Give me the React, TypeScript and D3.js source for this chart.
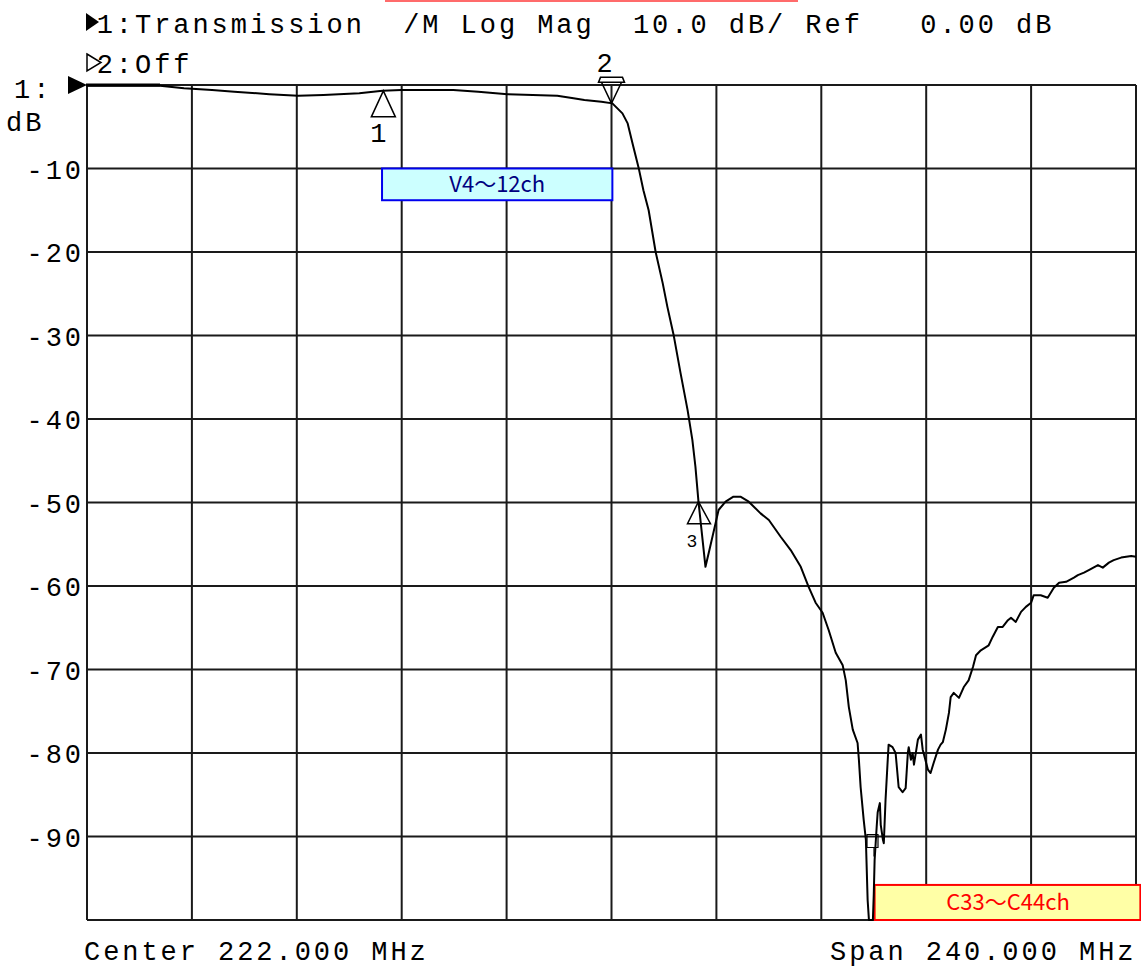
import * as d3 from "d3";

// sweep settings shown on the analyzer
const centerMHz = 222;
const spanMHz = 240;
const divisions = 10;
const refDB = 0;
const scaleDB = 10;

const headerLine1 = "1:Transmission  /M Log Mag  10.0 dB/ Ref   0.00 dB";
const headerLine2 = "2:Off";
const footerLeft = "Center 222.000 MHz";
const footerRight = "Span 240.000 MHz";

const yTickLabels = ["-10", "-20", "-30", "-40", "-50", "-60", "-70", "-80", "-90"];

// [MHz, dB]
const traceS21: [number, number][] = [
  [102.0, -0.1], [118.7, -0.1], [124.2, -0.4], [130.6, -0.6], [135.7, -0.8],
  [143.7, -1.1], [150.3, -1.3], [156.1, -1.2], [164.3, -1.0], [169.6, -0.7],
  [173.9, -0.6], [185.8, -0.6], [191.5, -0.8], [198.2, -1.1], [209.6, -1.3],
  [213.3, -1.6], [215.8, -1.8], [219.7, -2.0], [222.2, -2.2], [224.5, -3.4],
  [225.7, -4.6], [227.0, -7.4], [228.2, -9.9], [229.3, -12.6], [230.5, -15.0],
  [232.1, -20.0], [233.7, -23.7], [234.8, -26.6], [236.2, -29.9], [237.8, -34.5],
  [239.4, -38.9], [240.5, -42.5], [241.2, -45.7], [241.9, -49.9], [243.5, -57.7],
  [244.4, -55.7], [245.8, -52.5], [246.5, -50.9], [248.1, -49.9], [249.9, -49.3],
  [251.5, -49.3], [253.4, -49.9], [256.1, -51.3], [258.0, -52.1], [260.7, -54.1],
  [263.0, -55.7], [265.3, -57.7], [267.1, -60.1], [268.7, -62.0], [270.3, -63.2],
  [271.7, -65.3], [273.3, -68.0], [274.9, -69.5], [275.6, -71.3], [276.3, -74.5],
  [277.2, -77.2], [278.3, -78.8], [278.6, -80.8], [279.0, -84.1], [279.7, -88.0],
  [280.2, -90.4], [280.4, -94.0], [280.6, -97.6], [280.9, -100], [281.8, -100],
  [282.0, -97.0], [282.2, -92.8], [282.7, -88.6], [282.9, -87.1], [283.4, -86.0],
  [283.6, -88.6], [284.1, -90.4], [284.3, -90.8], [284.7, -85.6], [285.2, -80.8],
  [285.4, -79.0], [286.3, -79.3], [287.0, -80.0], [287.7, -84.1], [288.6, -84.7],
  [289.3, -84.2], [289.8, -80.0], [290.0, -79.3], [290.5, -80.8], [290.9, -80.0],
  [291.2, -81.4], [292.1, -78.4], [292.8, -77.8], [293.2, -79.6], [293.4, -80.0],
  [294.4, -82.0], [295.0, -82.4], [295.7, -81.2], [296.7, -79.6], [297.3, -79.0],
  [297.8, -78.7], [298.5, -77.2], [299.2, -75.2], [299.6, -73.3], [300.3, -72.8],
  [301.5, -73.4], [302.6, -72.1], [303.7, -71.3], [304.7, -69.7], [305.4, -68.3],
  [306.5, -67.7], [308.3, -67.1], [309.2, -66.1], [310.4, -64.9], [311.5, -64.9],
  [312.7, -64.1], [313.4, -63.8], [314.5, -64.3], [315.7, -63.1], [316.8, -62.5],
  [318.0, -62.0], [318.6, -61.1], [320.2, -61.1], [321.8, -61.4], [323.2, -60.2],
  [324.4, -59.6], [326.0, -59.5], [327.8, -59.0], [328.7, -58.7], [330.1, -58.4],
  [331.2, -58.1], [333.3, -57.5], [334.4, -57.8], [335.8, -57.2], [336.9, -56.9],
  [338.6, -56.6], [340.9, -56.4], [342.0, -56.5],
];

// markers: number, MHz, dB
const markerIds = [1, 2, 3, 4];
const markerMHz = [169.8, 222.0, 241.9, 281.6];
const markerDB = [-0.7, -2.2, -49.9, -90.0];

// channel annotations
const bandLabels = ["V4～12ch", "C33～C44ch"];
const bandStartMHz = [169.5, 282.2];
const bandEndMHz = [222.2, 343.0];
const bandTopDB = [-10, -95.8];
const bandBottomDB = [-13.8, -100];

const MONO = "'Liberation Mono', 'DejaVu Sans Mono', monospace";
const PITCH = 19.15;

function Mono({ x, y, text, size = 27 }: { x: number; y: number; text: string; size?: number }) {
  return (
    <text
      x={x}
      y={y}
      fontFamily={MONO}
      fontSize={size}
      letterSpacing={PITCH - size * 0.6}
      fill="#000"
      xmlSpace="preserve"
      style={{ whiteSpace: "pre" }}
    >
      {text}
    </text>
  );
}

export default function App() {
  const W = 1141,
    H = 967;
  const margin = { top: 85, right: 5, bottom: 47, left: 87 };

  const f0 = centerMHz - spanMHz / 2;
  const f1 = centerMHz + spanMHz / 2;
  const x = d3.scaleLinear().domain([f0, f1]).range([margin.left, W - margin.right]);
  const y = d3
    .scaleLinear()
    .domain([refDB - scaleDB * divisions, refDB])
    .range([H - margin.bottom, margin.top]);

  const line = d3
    .line<[number, number]>()
    .x((d) => x(d[0]))
    .y((d) => y(Math.max(d[1], -100)));

  const vGrid = d3.range(divisions + 1).map((i) => f0 + (spanMHz / divisions) * i);
  const hGrid = d3.range(divisions + 1).map((i) => refDB - scaleDB * i);

  const markers = markerIds.map((id, i) => ({ id, px: x(markerMHz[i]), py: y(markerDB[i]) }));

  return (
    <svg
      width={W}
      height={H}
      style={{ position: "absolute", left: 0, top: 0, background: "#fff" }}
    >
      <rect x={0} y={0} width={W} height={H} fill="#fff" />
      {/* red strip at the very top */}
      <line x1={385} x2={798} y1={1} y2={1} stroke="#ff6b6b" strokeWidth={2} />

      {/* header */}
      <path d="M86,13 L99,22 L86,31 Z" fill="#000" />
      <Mono x={96.7} y={33} text={headerLine1} />
      <path d="M87,54 L101,62.5 L87,71 Z" fill="none" stroke="#000" strokeWidth={1.5} />
      <Mono x={96.7} y={73} text={headerLine2} />

      {/* grid */}
      <g stroke="#1a1a1a" strokeWidth={2}>
        {vGrid.map((f) => (
          <line key={"v" + f} x1={x(f)} x2={x(f)} y1={y(0)} y2={y(-100)} />
        ))}
        {hGrid.map((v) => (
          <line key={"h" + v} x1={x(f0)} x2={x(f1)} y1={y(v)} y2={y(v)} />
        ))}
      </g>

      {/* reference position */}
      <Mono x={14} y={98} text="1:" />
      <path d={`M68,${y(0) - 9} L87,${y(0)} L68,${y(0) + 9} Z`} fill="#000" />
      <line x1={86} x2={160} y1={y(0)} y2={y(0)} stroke="#000" strokeWidth={3} />
      <Mono x={6} y={131} text="dB" />
      {yTickLabels.map((t) => (
        <Mono key={t} x={84 - t.length * PITCH} y={y(+t) + 10} text={t} />
      ))}

      {/* channel boxes */}
      {bandLabels.map((lab, i) => {
        const bx = x(bandStartMHz[i]);
        const bw = x(bandEndMHz[i]) - bx;
        const by = y(bandTopDB[i]);
        const bh = y(bandBottomDB[i]) - by;
        const blue = i === 0;
        return (
          <g key={lab}>
            <rect
              x={bx}
              y={by}
              width={bw}
              height={bh}
              fill={blue ? "#ccffff" : "#ffffa6"}
              stroke={blue ? "#0000ee" : "#ff0000"}
              strokeWidth={2}
            />
            <text
              x={blue ? bx + bw / 2 : 1008}
              y={by + bh / 2 + 8}
              textAnchor="middle"
              fontFamily="'Noto Sans CJK JP', 'Noto Sans', sans-serif"
              fontSize={22}
              fill={blue ? "#000080" : "#ff0000"}
            >
              {lab}
            </text>
          </g>
        );
      })}

      {/* trace */}
      <path d={line(traceS21) ?? ""} fill="none" stroke="#000" strokeWidth={2} strokeLinejoin="round" />

      {/* markers */}
      {markers.map((m) => {
        if (m.id === 1)
          return (
            <g key={m.id}>
              <path
                d={`M${m.px},${m.py} L${m.px - 12},${m.py + 26} L${m.px + 12},${m.py + 26} Z`}
                fill="none"
                stroke="#000"
                strokeWidth={1.5}
              />
              <Mono x={m.px - 13} y={m.py + 51} text="1" />
            </g>
          );
        if (m.id === 2)
          return (
            <g key={m.id}>
              <path
                d={`M${m.px},${m.py} L${m.px - 10},${m.py - 21} L${m.px + 10},${m.py - 21} Z M${m.px - 13},${m.py - 21} L${m.px - 11},${m.py - 26} L${m.px + 11},${m.py - 26} L${m.px + 13},${m.py - 21} Z`}
                fill="none"
                stroke="#000"
                strokeWidth={1.5}
              />
              <Mono x={m.px - 15} y={m.py - 31} text="2" />
            </g>
          );
        if (m.id === 3)
          return (
            <g key={m.id}>
              <path
                d={`M${m.px},${m.py} L${m.px - 11},${m.py + 22} L${m.px + 12},${m.py + 22} Z`}
                fill="none"
                stroke="#000"
                strokeWidth={1.5}
              />
              <Mono x={m.px - 12} y={m.py + 45} text="3" size={18} />
            </g>
          );
        return (
          <g key={m.id}>
            <path
              d={`M${m.px - 5},${m.py - 2} L${m.px + 6},${m.py - 2} L${m.px + 6},${m.py + 11} L${m.px - 5},${m.py + 11} Z M${m.px + 2},${m.py + 11} L${m.px + 2},${m.py + 20}`}
              fill="none"
              stroke="#000"
              strokeWidth={1.2}
            />
          </g>
        );
      })}

      {/* footer */}
      <Mono x={84} y={960} text={footerLeft} />
      <Mono x={830} y={960} text={footerRight} />
    </svg>
  );
}
